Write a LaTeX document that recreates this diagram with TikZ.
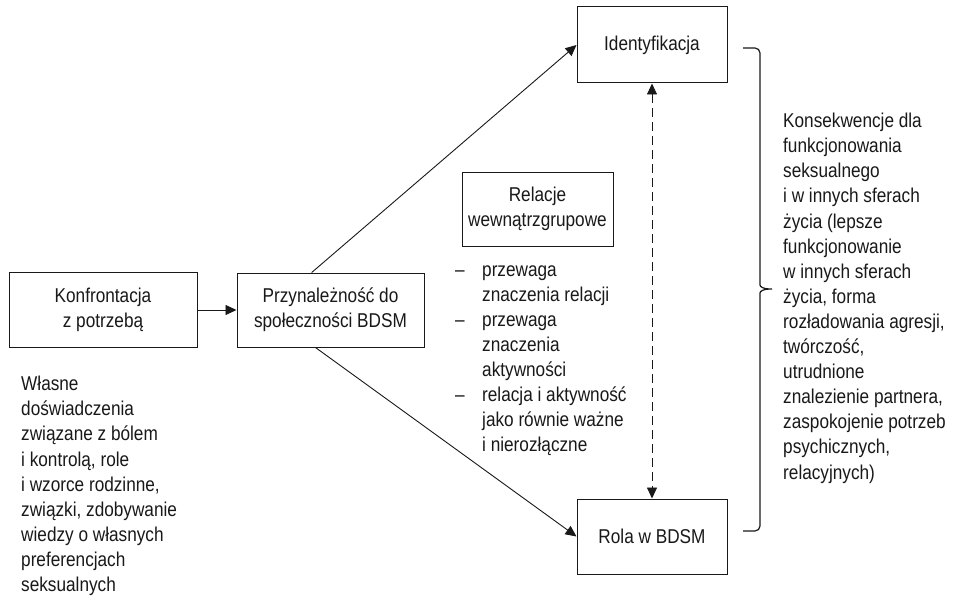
\documentclass[tikz,border=0pt]{standalone}
\usepackage{fontspec}
\setmainfont{Liberation Sans}[FakeStretch=0.86]
\usetikzlibrary{arrows.meta,calc}
\newcommand\lidash{\makebox[27pt][l]{–}}
\newcommand\liind{\hspace*{27pt}}
\begin{document}
\begin{tikzpicture}[x=1pt,y=-1pt,
  txt/.style={font=\fontsize{20}{25}\selectfont, text=black!90},
  box/.style={draw=black!90, line width=1pt, txt, align=center, inner sep=2pt},
  free/.style={txt, anchor=north west, align=left, inner sep=0pt},
  arr/.style={draw=black!90, line width=0.9pt, -{Triangle[length=11pt,width=10pt]}},
  darr/.style={draw=black!90, line width=0.9pt, dash pattern=on 9pt off 5pt, {Triangle[length=11pt,width=10pt]}-{Triangle[length=11pt,width=10pt]}},
  brace/.style={draw=black!90, line width=1.2pt, rounded corners=5pt}]
\useasboundingbox (0,0) rectangle (957,599);
\fill[white] (0,0) rectangle (957,599);

\node[box, minimum width=188pt, minimum height=75pt] (konf) at (103,310) {Konfrontacja\\z potrzebą};
\node[box, minimum width=187pt, minimum height=74pt] (przyn) at (330.5,310) {Przynależność do\\społeczności BDSM};
\node[box, minimum width=150pt, minimum height=76pt] (ident) at (652,45) {Identyfikacja};
\node[box, minimum width=150pt, minimum height=75pt] (rola) at (652,536.5) {Rola w BDSM};
\node[box, minimum width=151pt, minimum height=74pt] (rel) at (537.5,209) {Relacje\\wewnątrzgrupowe};

\node[free, font=\fontsize{20}{25.1}\selectfont] (wlasne) at (21,376) {Własne\\doświadczenia\\związane z bólem\\i kontrolą, role\\i wzorce rodzinne,\\związki, zdobywanie\\wiedzy o własnych\\preferencjach\\seksualnych};

\node[free, font=\fontsize{20}{25}\selectfont] (lista) at (455,266) {\lidash przewaga\\\liind znaczenia relacji\\\lidash przewaga\\\liind znaczenia\\\liind aktywności\\\lidash relacja i aktywność\\\liind jako równie ważne\\\liind i nierozłączne};

\node[free, font=\fontsize{20}{25.1}\selectfont] (kons) at (783,113) {Konsekwencje dla\\funkcjonowania\\seksualnego\\i w innych sferach\\życia (lepsze\\funkcjonowanie\\w innych sferach\\życia, forma\\rozładowania agresji,\\twórczość,\\utrudnione\\znalezienie partnera,\\zaspokojenie potrzeb\\psychicznych,\\relacyjnych)};

\draw[arr] (konf.east) -- (przyn.west);
\draw[arr] ($(przyn.north west)!0.4!(przyn.north east)$) -- (ident.west);
\draw[arr] ($(przyn.south west)!0.42!(przyn.south east)$) -- (rola.west);
\draw[darr] (ident.south) -- (rola.north);

\draw[brace] (743,48) -- (760,48) -- (760,280) .. controls (760,287) and (764,289) .. (775,289) .. controls (764,289) and (760,291) .. (760,298) -- (760,531) -- (743,531);
\end{tikzpicture}
\end{document}
